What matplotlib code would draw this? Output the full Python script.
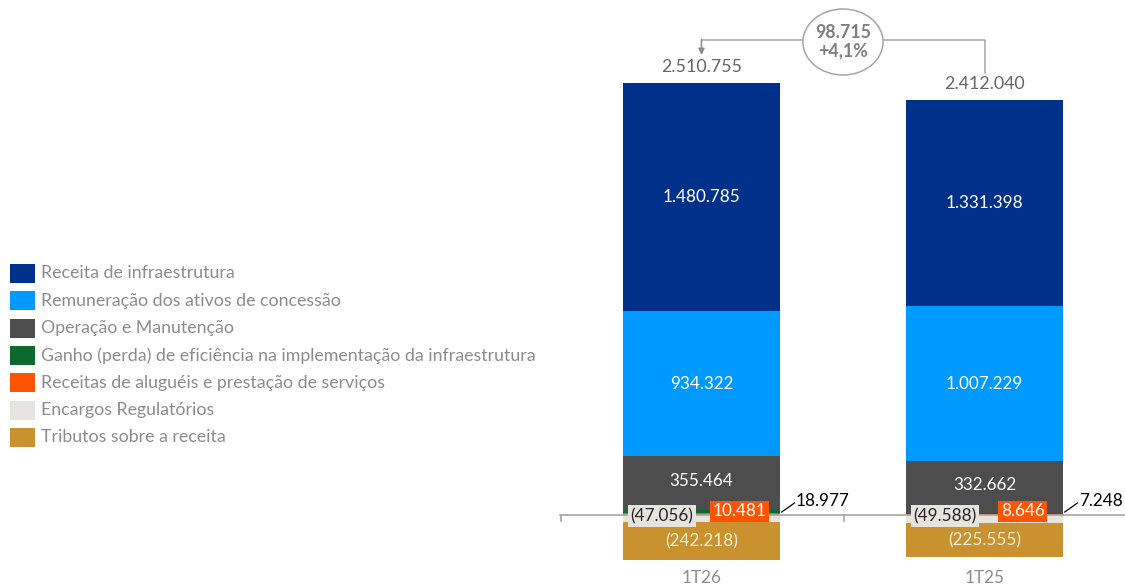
import matplotlib
matplotlib.use("Agg")
import matplotlib.pyplot as plt
from matplotlib.patches import Ellipse, Rectangle
import numpy as np

plt.rcParams['font.family'] = ['Lato', 'DejaVu Sans']

categories = ["1T26", "1T25"]
receita_infra = [1480785, 1331398]
remuneracao = [934322, 1007229]
operacao = [355464, 332662]
ganho = [18977, 7248]
alugueis = [10481, 8646]
encargos = [-47056, -49588]
tributos = [-242218, -225555]
totals = [2510755, 2412040]
variation_value = "98.715"
variation_pct = "+4,1%"

def fmt(v):
    s = f"{abs(v):,}".replace(",", ".")
    return f"({s})" if v < 0 else s

series_names = ["Receita de infraestrutura", "Remuneração dos ativos de concessão",
                "Operação e Manutenção",
                "Ganho (perda) de eficiência na implementação da infraestrutura",
                "Receitas de aluguéis e prestação de serviços",
                "Encargos Regulatórios", "Tributos sobre a receita"]
colors = {"infra": "#00318A", "remu": "#0099FF", "oper": "#4D4D4D", "ganho": "#0B6A2C",
          "alug": "#FF5500", "enc": "#E7E3DF", "trib": "#C9922E"}

W, H = 1125, 587
fig = plt.figure(figsize=(W / 100, H / 100), dpi=100)
x0_px, x1_px = 560, 1126
ax = fig.add_axes([x0_px / W, 0, (x1_px - x0_px) / W, 1])
scale = 6482.0
zero_px = 515
ax.set_ylim(-(H - zero_px) * scale, zero_px * scale)
ax.set_xlim(-0.5, 1.5)
ax.axis("off")

x = np.arange(len(categories))
bw = 0.557

# positive stack from bottom
pos_series = [(alugueis, colors["alug"]), (ganho, colors["ganho"]), (operacao, colors["oper"]),
              (remuneracao, colors["remu"]), (receita_infra, colors["infra"])]
bottom = np.zeros(len(x))
for vals, c in pos_series:
    ax.bar(x, vals, bw, bottom=bottom, color=c, linewidth=0)
    bottom = bottom + np.array(vals)
pos_tops = bottom.copy()
nb = np.zeros(len(x))
for vals, c in [(encargos, colors["enc"]), (tributos, colors["trib"])]:
    ax.bar(x, vals, bw, bottom=nb, color=c, linewidth=0)
    nb = nb + np.array(vals)

# axis line and ticks
ax.plot([-0.5, 1.5], [0, 0], color="#A6A6A6", lw=1.2, clip_on=False, zorder=1)
for t in [-0.495, 0.505]:
    ax.plot([t, t], [0, -6 * scale], color="#A6A6A6", lw=1.2, clip_on=False, zorder=1)

fs = 12.3
for i in range(len(x)):
    b_oper = alugueis[i] + ganho[i]
    b_remu = b_oper + operacao[i]
    b_infra = b_remu + remuneracao[i]
    ax.text(x[i], b_infra + receita_infra[i] / 2, fmt(receita_infra[i]), color="white",
            ha="center", va="center", fontsize=fs)
    ax.text(x[i], b_remu + remuneracao[i] / 2, fmt(remuneracao[i]), color="white",
            ha="center", va="center", fontsize=fs)
    ax.text(x[i], b_oper + operacao[i] / 2 + 2 * scale, fmt(operacao[i]), color="white",
            ha="center", va="center", fontsize=fs)
    ax.text(x[i], encargos[i] + tributos[i] / 2, fmt(tributos[i]), color="#F5EEDC",
            ha="center", va="center", fontsize=fs)
    ax.text(x[i] - 0.14, -1 * scale, fmt(encargos[i]), color="#262626", ha="center", va="center",
            fontsize=fs, bbox=dict(boxstyle="square,pad=0.15", fc=colors["enc"], ec="none"))
    ax.text(x[i] + 0.135, 3.5 * scale, fmt(alugueis[i]), color="white", ha="center", va="center",
            fontsize=fs, bbox=dict(boxstyle="square,pad=0.15", fc=colors["alug"], ec="none"))
    ax.plot([x[i] + bw / 2 + 0.005, x[i] + bw / 2 + 0.05], [3 * scale, 12 * scale],
            color="black", lw=0.9, clip_on=False)
    ax.text(x[i] + bw / 2 + 0.055, 14 * scale, fmt(ganho[i]), color="black", ha="left",
            va="center", fontsize=fs, clip_on=False)
    ax.text(x[i], pos_tops[i] + 16 * scale, fmt(totals[i]), color="#666666", ha="center",
            va="center", fontsize=fs + 0.5)
    ax.text(x[i], -(578 - zero_px) * scale, categories[i], color="#8C8C8C", ha="center",
            va="center", fontsize=fs)

# variation bubble
ex, ey = 0.5, (zero_px - 42) * scale
ell = Ellipse((ex, ey), 0.283, 66 * scale, fc="white", ec="#A6A6A6", lw=1.1, clip_on=False, zorder=3)
ax.add_patch(ell)
ax.text(ex, ey, f"{variation_value}\n{variation_pct}", color="#7F7F7F", ha="center",
        va="center", fontsize=12.8, fontweight="bold", linespacing=1.1, zorder=4)
ly = (zero_px - 40) * scale
ax.plot([ex - 0.1415, x[0]], [ly, ly], color="#A6A6A6", lw=1.1, zorder=2)
ax.annotate("", xy=(x[0], (zero_px - 55) * scale), xytext=(x[0], ly + 0.5 * scale),
            arrowprops=dict(arrowstyle="-|>", color="#8C8C8C", lw=1.1, mutation_scale=9,
                            shrinkA=0, shrinkB=0))
ax.plot([ex + 0.1415, x[1], x[1]], [ly, ly, (zero_px - 73) * scale], color="#A6A6A6", lw=1.1,
        zorder=2)

# legend
leg_colors = [colors["infra"], colors["remu"], colors["oper"], colors["ganho"], colors["alug"],
              colors["enc"], colors["trib"]]
for k, (name, c) in enumerate(zip(series_names, leg_colors)):
    yc = 273.5 + k * 27.3
    fig.patches.append(Rectangle((10 / W, 1 - (yc + 9.5) / H), 25 / W, 19 / H, transform=fig.transFigure,
                                 fc=c, ec="none"))
    fig.text(41 / W, 1 - yc / H, name, color="#8C8C8C", fontsize=12.8, ha="left", va="center")

fig.savefig("out.png", dpi=100)
